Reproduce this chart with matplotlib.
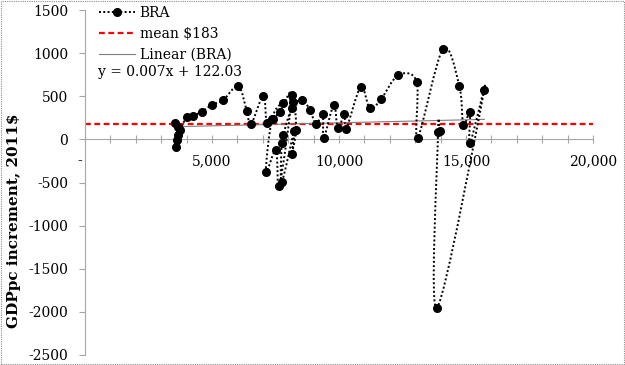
import matplotlib
matplotlib.use('Agg')
import matplotlib.pyplot as plt
from matplotlib.path import Path
from matplotlib.patches import PathPatch, Rectangle
from matplotlib.lines import Line2D
import matplotlib.ticker as mticker
import numpy as np

# ---- data ----
gdppc = [3543, 3673, 3583, 3610, 3650, 3740, 4004, 4264, 4594, 4988, 5445, 6035,
         6366, 6535, 7020, 7154, 7390, 7677, 8138, 7650, 7520, 7126, 7362, 7780,
         8201, 8307, 8138, 8234, 7744, 7744, 7807, 8138, 8531, 8858, 9094, 9362,
         9402, 9795, 9953, 10213, 10280, 10854, 11220, 11654, 12335, 13059, 13098,
         14094, 14736, 14894, 15157, 15157, 15720, 13858, 13900, 13960]
increment = [194, 147, -85, -7, 51, 109, 256, 275, 321, 399, 458, 619,
             333, 175, 506, 187, 236, 321, 515, -540, -123, -374, 236, 425,
             437, 109, -169, 96, -490, -45, 51, 360, 457, 341, 175, 291,
             20, 399, 129, 291, 117, 604, 360, 465, 746, 669, 20,
             1048, 622, 167, 321, -45, 573, -1952, 86, 95]
mean_value = 183
trend_slope = 0.007
trend_intercept = 122.03
series_label = "BRA"
mean_label = "mean $183"
trend_label = "Linear (BRA)"
equation_text = "y = 0.007x + 122.03"
y_label = "GDPpc increment, 2011$"
x_limits = (0, 20000)
y_limits = (-2500, 1500)

plt.rcParams['font.family'] = ['DejaVu Serif']
FS = 10

W, H = 625, 365
fig = plt.figure(figsize=(W / 100, H / 100), dpi=100)
ax = fig.add_axes([85 / W, 10 / H, 508 / W, 345 / H])
ax.set_xlim(*x_limits)
ax.set_ylim(*y_limits)

# mean line
ax.plot(list(x_limits), [mean_value, mean_value], color='#ff0000',
        lw=1.6, ls=(0, (2.6, 1.6)), zorder=2)

# linear trend
xs = np.array([min(gdppc), max(gdppc)], dtype=float)
ax.plot(xs, trend_slope * xs + trend_intercept, color='#7f7f7f', lw=0.8, zorder=2)

# smoothed connecting line (Catmull-Rom -> Bezier)
pts = np.column_stack([gdppc, increment]).astype(float)
n = len(pts)
verts = [pts[0]]
codes = [Path.MOVETO]
for i in range(n - 1):
    p0 = pts[i - 1] if i > 0 else pts[i]
    p1 = pts[i]
    p2 = pts[i + 1]
    p3 = pts[i + 2] if i + 2 < n else pts[i + 1]
    c1 = p1 + (p2 - p0) / 6.0
    c2 = p2 - (p3 - p1) / 6.0
    verts += [c1, c2, p2]
    codes += [Path.CURVE4] * 3
patch = PathPatch(Path(verts, codes), fill=False, edgecolor='black', lw=1.4,
                  linestyle=(0, (1, 1.2)), zorder=3)
ax.add_patch(patch)
ax.plot(gdppc, increment, ls='none', marker='o', ms=5.5, color='black', zorder=4)

# axes styling
for s in ['top', 'right']:
    ax.spines[s].set_visible(False)
ax.spines['bottom'].set_position(('data', 0))
ax.spines['bottom'].set_color('#a6a6a6')
ax.spines['bottom'].set_linestyle((0, (1, 1)))
ax.spines['left'].set_color('#a6a6a6')

ax.xaxis.set_major_locator(mticker.MultipleLocator(1000))
ax.xaxis.set_major_formatter(mticker.FuncFormatter(
    lambda v, p: f"{int(round(v)):,}" if (round(v) % 5000 == 0 and round(v) != 0) else ""))
ax.yaxis.set_major_locator(mticker.MultipleLocator(500))
ax.yaxis.set_major_formatter(mticker.FuncFormatter(lambda v, p: f"{int(round(v))}"))

ax.tick_params(axis='x', direction='inout', length=6, color='#a6a6a6',
               labelsize=FS, pad=8, labelcolor='black')
ax.tick_params(axis='y', direction='out', length=4, color='#a6a6a6',
               labelsize=FS, pad=8, labelcolor='black')

ax.set_ylabel(y_label, fontsize=11, fontweight='bold')
ax.yaxis.set_label_coords(-0.126, 0.39)

# legend
handles = [Line2D([], [], color='black', ls=(0, (1, 1.2)), lw=1.4, marker='o', ms=5.5),
           Line2D([], [], color='#ff0000', ls=(0, (2.6, 1.6)), lw=1.6),
           Line2D([], [], color='#7f7f7f', lw=0.8)]
leg = ax.legend(handles, [series_label, mean_label, trend_label], loc='upper left',
                bbox_to_anchor=(96 / W, 1 - 3 / H), bbox_transform=fig.transFigure,
                frameon=False, fontsize=FS, handlelength=2.6, handletextpad=0.35,
                labelspacing=0.5, borderpad=0.2, borderaxespad=0)
fig.text(98 / W, 1 - 72 / H, equation_text, fontsize=FS, ha='left', va='center')

# small stray mark below the zero label
fig.text(80 / W, 1 - 161 / H, "-", fontsize=FS, ha='center', va='center')

# dotted chart border
fig.patches.append(Rectangle((0.001, 0.002), 0.997, 0.996, transform=fig.transFigure,
                             fill=False, edgecolor='#8c8c8c', lw=0.8, ls=(0, (1, 1))))

fig.savefig('out.png', dpi=100)
